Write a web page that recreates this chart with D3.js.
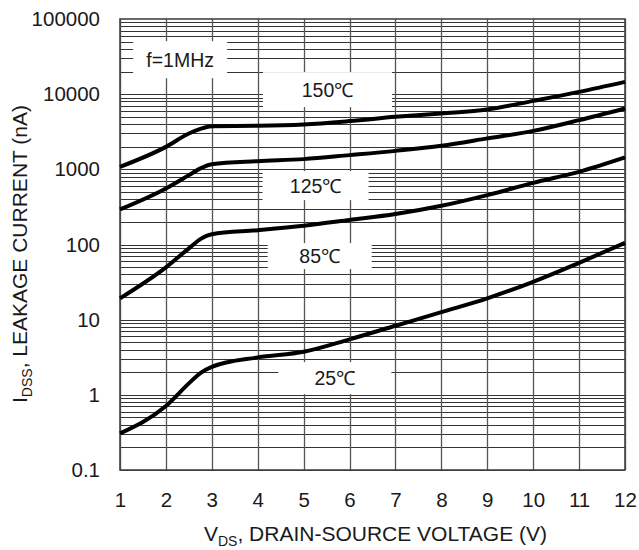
<!DOCTYPE html>
<html>
<head>
<meta charset="utf-8">
<script src="https://cdn.jsdelivr.net/npm/d3@7"></script>
<style>
  body { margin: 0; background: #fff; }
  text { font-family: "Liberation Sans", Arial, Helvetica, sans-serif; fill: #1a1a1a; }
</style>
</head>
<body>
<div id="chart"></div>
<script>
// drain-source voltage (V)
const vds = [1, 2, 2.5, 2.75, 3, 4, 5, 6, 7, 8, 9, 10, 11, 12];

// leakage current (nA) per temperature
const i150 = [1080, 1990, 3000, 3450, 3750, 3790, 3950, 4380, 4990, 5550, 6260, 8150, 10740, 14580];
const i125 = [293, 557, 837, 1030, 1170, 1285, 1367, 1545, 1760, 2060, 2580, 3250, 4510, 6450];
const i85 = [19.2, 49.6, 88.7, 118, 137, 155, 178, 212, 254, 327, 454, 661, 927, 1440];
const i25 = [0.307, 0.71, 1.42, 1.95, 2.36, 3.15, 3.74, 5.47, 8.3, 12.6, 19.2, 31.9, 57.1, 105];

const seriesList = [i150, i125, i85, i25];

const xTicks = [1, 2, 3, 4, 5, 6, 7, 8, 9, 10, 11, 12];
const yTicks = [0.1, 1, 10, 100, 1000, 10000, 100000];
const yTickLabels = ["0.1", "1", "10", "100", "1000", "10000", "100000"];

// annotations: text, V position, current position
const noteText = ["f=1MHz", "150\u2103", "125\u2103", "85\u2103", "25\u2103"];
const noteV = [2.31, 5.52, 5.26, 5.35, 5.68];
const noteI = [28770, 11500, 607, 70.1, 1.67];
const noteW = [94, 129, 106, 104, 113];
const noteH = [37, 35, 29, 26, 32];

const width = 639;
const height = 550;
const margin = {top: 19, right: 14, bottom: 80, left: 120};
const innerW = width - margin.left - margin.right;
const innerH = height - margin.top - margin.bottom;

const xScale = d3.scaleLinear().domain([1, 12]).range([0, innerW]);
const yScale = d3.scaleLog().domain([0.1, 100000]).range([innerH, 0]);

const svg = d3.select("#chart").append("svg")
    .attr("width", width)
    .attr("height", height);

const g = svg.append("g").attr("transform", "translate(" + margin.left + "," + margin.top + ")");

// minor / major horizontal grid lines (2..9 of every decade)
const hLines = [];
for (let k = -1; k < 5; k++) {
    for (let m = 1; m < 10; m++) hLines.push(m * Math.pow(10, k));
}
g.append("g").selectAll("line").data(hLines).enter()
    .append("line")
    .attr("x1", 0).attr("x2", innerW)
    .attr("y1", function(d) { return Math.round(yScale(d)) + 0.5; })
    .attr("y2", function(d) { return Math.round(yScale(d)) + 0.5; })
    .attr("stroke", "#333")
    .attr("stroke-width", 1);

// vertical grid lines
g.append("g").selectAll("line").data(xTicks).enter()
    .append("line")
    .attr("x1", function(d) { return Math.round(xScale(d)) + 0.5; })
    .attr("x2", function(d) { return Math.round(xScale(d)) + 0.5; })
    .attr("y1", 0).attr("y2", innerH)
    .attr("stroke", "#555")
    .attr("stroke-width", 1.3);

// label boxes cover the grid
const notes = g.append("g").selectAll("g").data(noteText).enter()
    .append("g")
    .attr("transform", function(d, i) {
        return "translate(" + xScale(noteV[i]) + "," + yScale(noteI[i]) + ")";
    });

notes.append("rect")
    .attr("x", function(d, i) { return -noteW[i] / 2; })
    .attr("y", function(d, i) { return -noteH[i] / 2; })
    .attr("width", function(d, i) { return noteW[i]; })
    .attr("height", function(d, i) { return noteH[i]; })
    .attr("fill", "#fff");

notes.append("text")
    .attr("text-anchor", "middle")
    .attr("dy", "0.36em")
    .attr("font-size", "19.5px")
    .text(function(d) { return d; });

// frame
g.append("rect")
    .attr("width", innerW)
    .attr("height", innerH)
    .attr("fill", "none")
    .attr("stroke", "#444")
    .attr("stroke-width", 1.6);

// curves
const line = d3.line()
    .x(function(d, i) { return xScale(vds[i]); })
    .y(function(d) { return yScale(d); })
    .curve(d3.curveMonotoneX);

g.append("g").selectAll("path").data(seriesList).enter()
    .append("path")
    .attr("d", line)
    .attr("fill", "none")
    .attr("stroke", "#000")
    .attr("stroke-width", 4)
    .attr("stroke-linejoin", "round");

// axes (labels only, grid already drawn)
const xAxis = d3.axisBottom(xScale).tickValues(xTicks).tickSize(0).tickPadding(22);
const yAxis = d3.axisLeft(yScale).tickValues(yTicks).tickSize(0).tickPadding(20)
    .tickFormat(function(d, i) { return yTickLabels[i]; });

const gx = g.append("g")
    .attr("transform", "translate(0," + innerH + ")")
    .call(xAxis);
gx.select(".domain").remove();
gx.selectAll("text").attr("font-size", "20.5px").attr("font-family", null).attr("fill", null);

const gy = g.append("g").call(yAxis);
gy.select(".domain").remove();
gy.selectAll("text").attr("font-size", "20.5px").attr("font-family", null).attr("fill", null);

// axis titles
const xTitle = svg.append("text")
    .attr("x", margin.left + innerW / 2 + 3)
    .attr("y", 541)
    .attr("text-anchor", "middle")
    .attr("font-size", "21px");
xTitle.append("tspan").text("V");
xTitle.append("tspan").attr("font-size", "14px").attr("dy", 5).text("DS");
xTitle.append("tspan").attr("dy", -5).text(", DRAIN-SOURCE VOLTAGE (V)");

const yTitle = svg.append("text")
    .attr("transform", "translate(27," + 254 + ") rotate(-90)")
    .attr("text-anchor", "middle")
    .attr("font-size", "21px");
yTitle.append("tspan").text("I");
yTitle.append("tspan").attr("font-size", "14px").attr("dy", 5).text("DSS");
yTitle.append("tspan").attr("dy", -5).text(", LEAKAGE CURRENT (nA)");
</script>
</body>
</html>
